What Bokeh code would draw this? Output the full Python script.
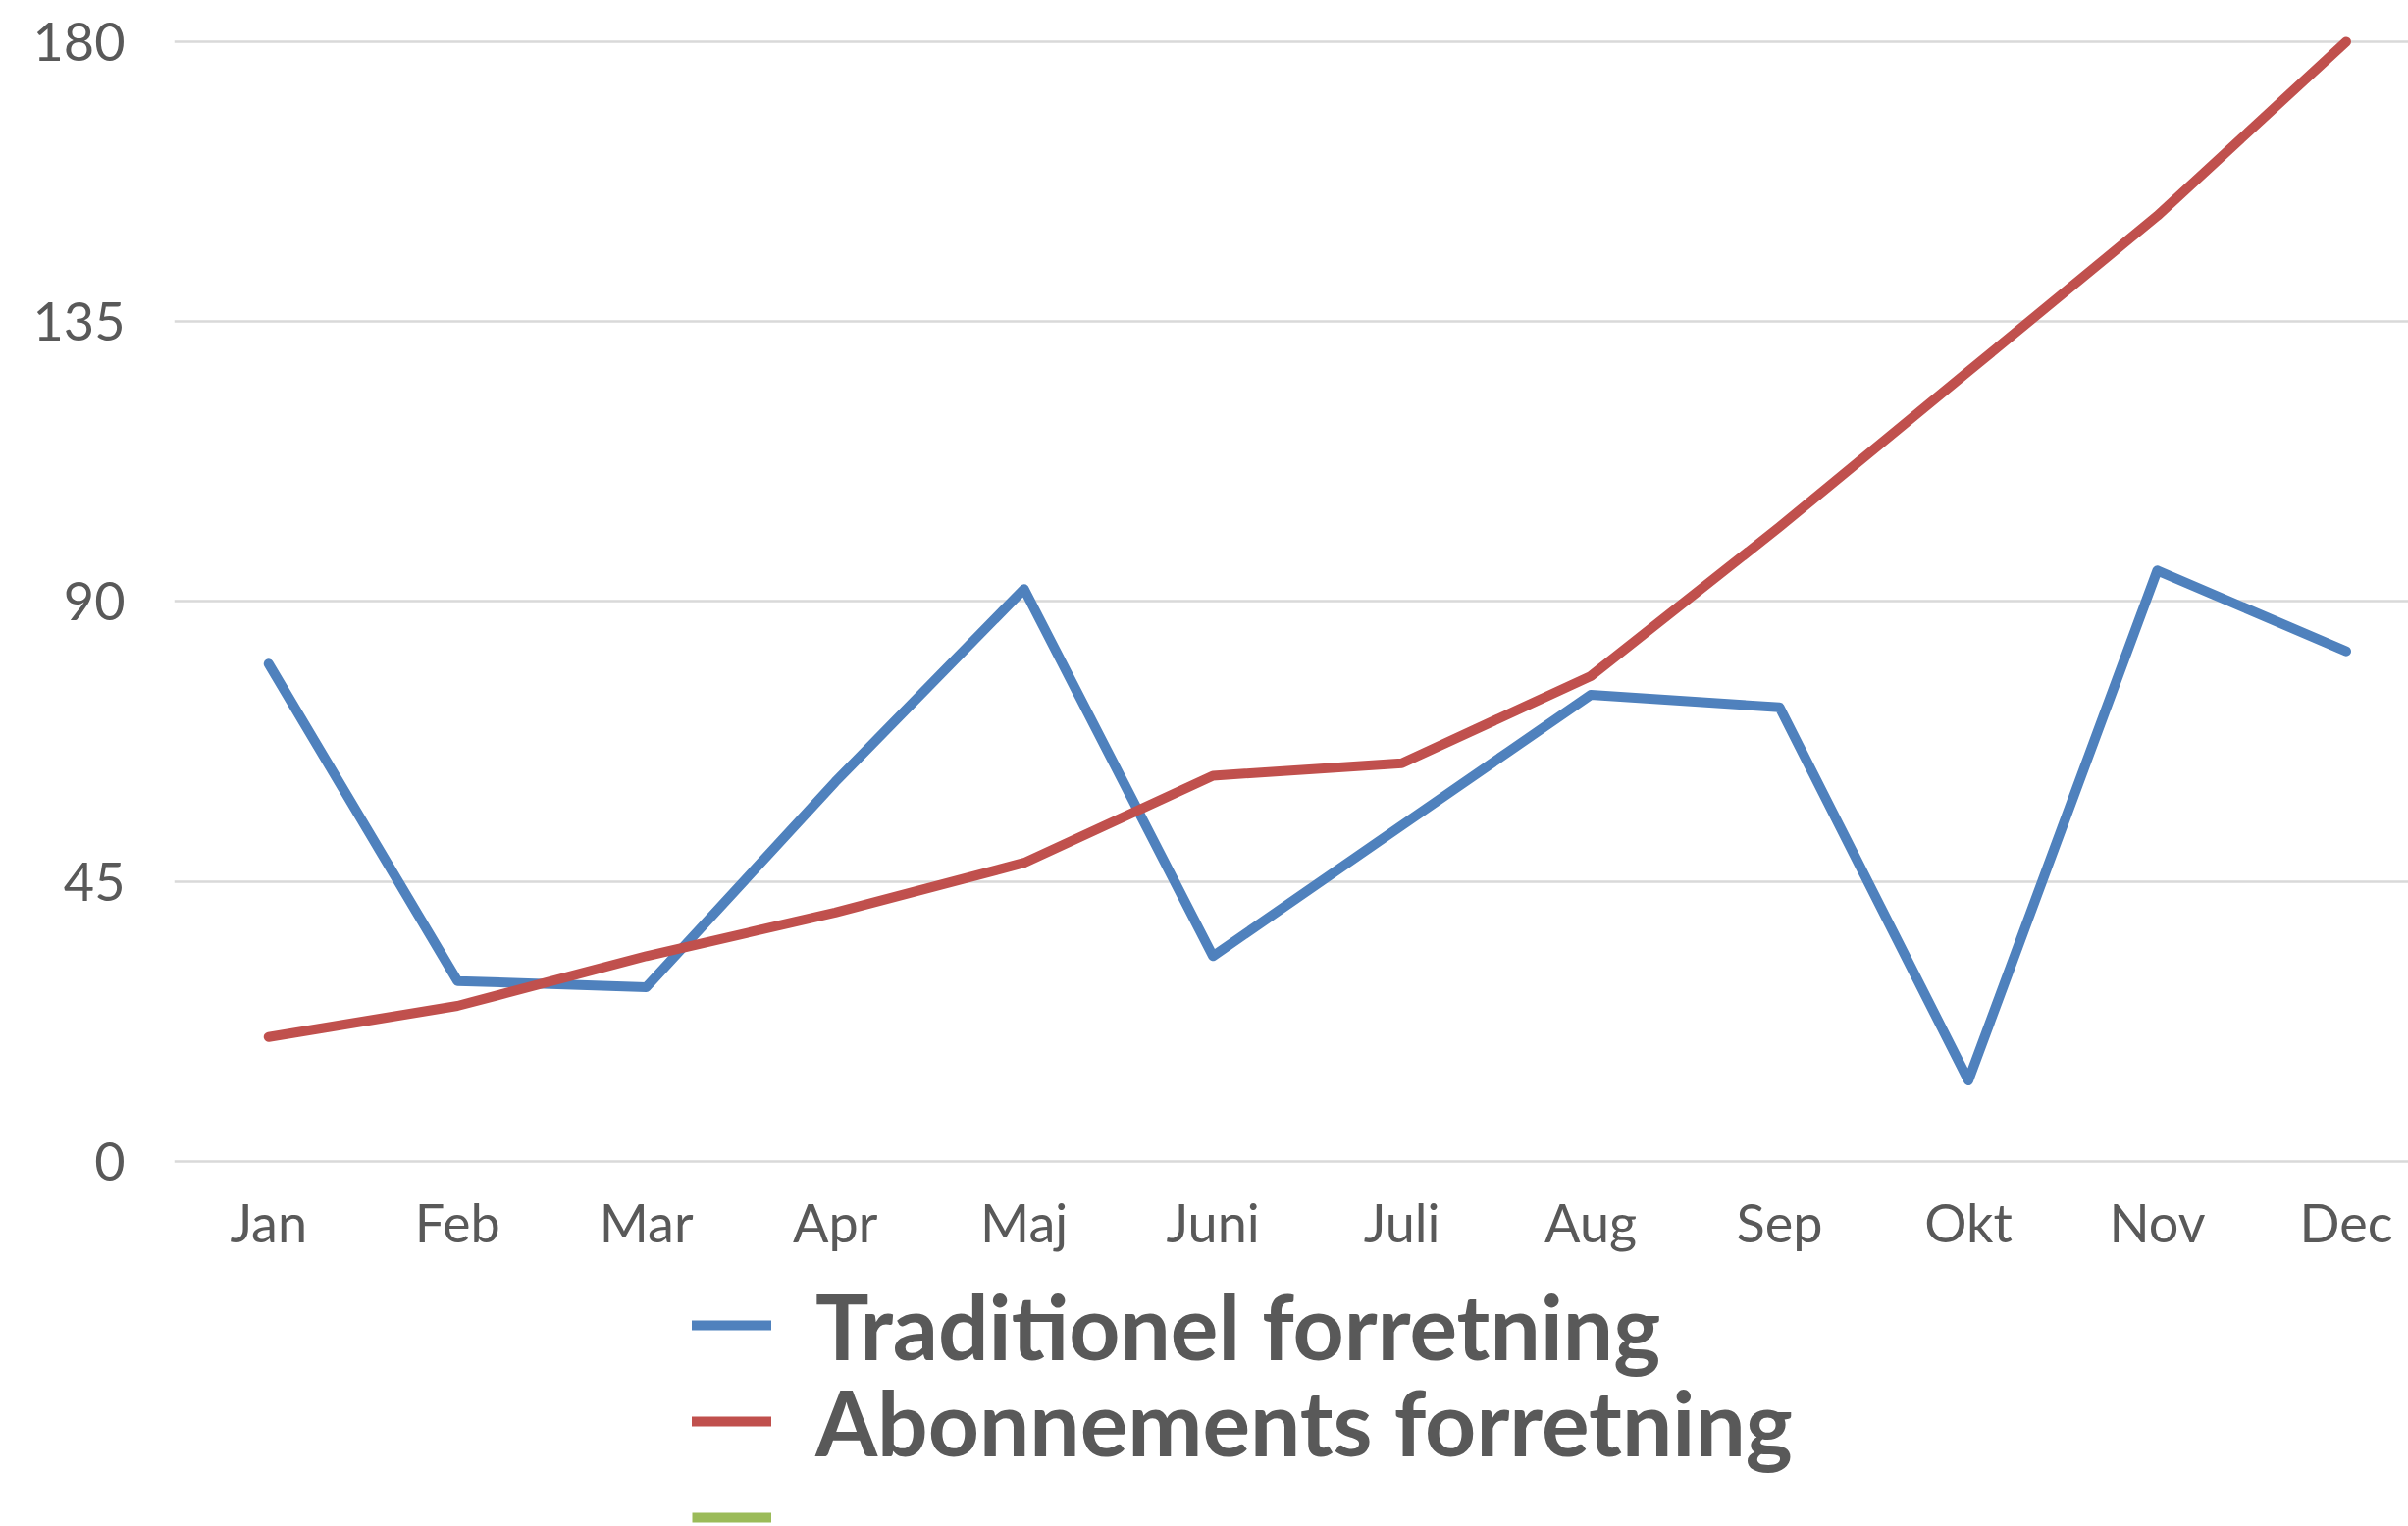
from bokeh.plotting import figure
from bokeh.models import Range1d, FixedTicker, Legend, LegendItem, ColumnDataSource
from bokeh.core.properties import value
from bokeh.embed import file_html
from bokeh.resources import INLINE

nan = float("nan")
months = ["Jan", "Feb", "Mar", "Apr", "Maj", "Juni", "Juli", "Aug", "Sep", "Okt", "Nov", "Dec"]
traditionel = [80, 29, 28, 61, 92, 33, 54, 75, 73, 13, 95, 82]
abonnements = [20, 25, 33, 40, 48, 62, 64, 78, 102, 127, 152, 180]
third_series = [nan] * 12  # third series has no values, shown only in the legend
y_ticks = [0, 45, 90, 135, 180]
labels = ["Traditionel forretning", "Abonnements forretning", " "]

FONT = "Lato"
TEXT = "#595959"

x_idx = list(range(len(months)))

p = figure(width=2454, height=1555, output_backend="svg", toolbar_location=None,
           x_range=Range1d(-0.5, 11.33), y_range=Range1d(-58.69, 183.94),
           min_border_left=177, min_border_right=0, min_border_top=17, min_border_bottom=0)
p.outline_line_color = None
p.background_fill_color = "white"
p.border_fill_color = "white"

src1 = ColumnDataSource(dict(x=x_idx, y=traditionel))
src2 = ColumnDataSource(dict(x=x_idx, y=abonnements))
src3 = ColumnDataSource(dict(x=x_idx, y=third_series))

r1 = p.line("x", "y", source=src1, line_color="#4F81BD", line_width=10,
            line_join="round", line_cap="round")
r2 = p.line("x", "y", source=src2, line_color="#C0504D", line_width=10,
            line_join="round", line_cap="round")
r3 = p.line("x", "y", source=src3, line_color="#9BBB59", line_width=10)

# axes
p.xaxis.ticker = FixedTicker(ticks=x_idx)
p.xaxis.major_label_overrides = {i: m for i, m in enumerate(months)}
p.xaxis.fixed_location = 0
p.yaxis.ticker = FixedTicker(ticks=y_ticks)
for ax in (p.xaxis[0], p.yaxis[0]):
    ax.axis_line_color = None
    ax.major_tick_line_color = None
    ax.minor_tick_line_color = None
    ax.major_tick_out = 0
    ax.major_tick_in = 0
    ax.major_label_text_font = FONT
    ax.major_label_text_font_size = "54px"
    ax.major_label_text_color = TEXT
p.xaxis.major_label_standoff = 30
p.yaxis.major_label_standoff = 50

p.xgrid.grid_line_color = None
p.ygrid.ticker = FixedTicker(ticks=y_ticks)
p.ygrid.grid_line_color = "#D9D9D9"
p.ygrid.grid_line_width = 2.5

# one legend per row so the row pitch can match the reference
rows = [(labels[0], r1, 145), (labels[1], r2, 47), (labels[2], r3, -51)]
for lab, rend, vy in rows:
    lg = Legend(items=[LegendItem(label=value(lab), renderers=[rend])],
                location=(528, vy), orientation="vertical",
                label_text_font=FONT, label_text_font_style="bold",
                label_text_font_size="91px", label_text_color=TEXT,
                glyph_width=81, glyph_height=120, label_height=120,
                label_standoff=45, spacing=0, padding=0, margin=0,
                border_line_color=None, background_fill_alpha=0)
    p.add_layout(lg, "center")

open("out.html", "w").write(file_html(p, INLINE))
